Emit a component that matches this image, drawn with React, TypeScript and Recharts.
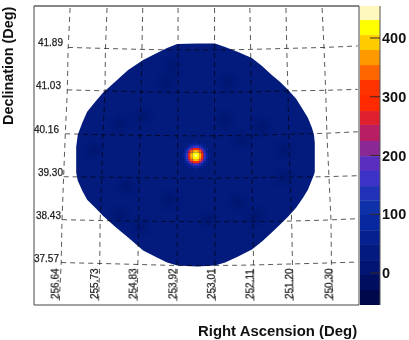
import React from 'react';
import {
  ComposedChart, Area, Line, Scatter, XAxis, YAxis, ReferenceArea, ReferenceLine,
} from 'recharts';

const FONT = '"Liberation Sans", Arial, sans-serif';

// sky map: the edge of the exposure disk
const diskRa = [256.43, 256.39, 256.28, 256.16, 255.96, 255.77, 255.47, 255.15, 254.78, 254.44, 254.19, 253.94, 253.45, 253.01, 252.76, 252.44, 252.10, 251.85, 251.61, 251.41, 251.21, 251.01, 250.84, 250.72, 250.62, 250.57, 250.55];
const diskTop = [39.94, 40.18, 40.42, 40.64, 40.84, 41.02, 41.24, 41.48, 41.68, 41.82, 41.92, 42.00, 42.01, 42.01, 41.94, 41.84, 41.72, 41.56, 41.38, 41.24, 41.08, 40.90, 40.68, 40.52, 40.32, 40.18, 40.02];
const diskBottom = [39.42, 39.26, 39.06, 38.88, 38.72, 38.56, 38.34, 38.12, 37.86, 37.72, 37.62, 37.56, 37.54, 37.56, 37.62, 37.74, 37.88, 38.04, 38.22, 38.38, 38.54, 38.72, 38.92, 39.08, 39.28, 39.38, 39.44];

// darker patches of the background
const patchRa = [256.01, 255.35, 254.04, 254.78, 254.19, 252.69, 252.76, 251.85, 251.29, 252.34, 255.18, 254.12, 255.35, 254.86, 252.44, 251.33, 253.18, 252.02];
const patchDec = [39.88, 40.42, 41.54, 40.54, 41.22, 41.22, 40.48, 40.34, 39.88, 40.08, 39.14, 38.88, 38.58, 38.34, 38.82, 39.34, 38.48, 38.54];

// hot spot, rows from north to south
const spotRa = [253.80, 253.75, 253.70, 253.64, 253.59, 253.53, 253.48, 253.43, 253.37, 253.32, 253.26, 253.21, 253.16];
const spotDec = [40.02, 39.98, 39.94, 39.89, 39.85, 39.80, 39.76, 39.72, 39.67, 39.63, 39.58, 39.54, 39.50];
const spotValues = [
  [3, 8, 15, 25, 35, 45, 50, 45, 35, 25, 15, 8, 3],
  [8, 15, 35, 55, 70, 85, 90, 85, 70, 55, 35, 15, 8],
  [15, 35, 60, 90, 135, 160, 170, 160, 135, 90, 60, 35, 15],
  [25, 55, 90, 150, 240, 290, 300, 290, 240, 150, 90, 55, 25],
  [35, 70, 135, 240, 330, 375, 390, 375, 330, 240, 135, 70, 35],
  [45, 85, 160, 290, 375, 420, 430, 420, 375, 290, 160, 85, 45],
  [50, 90, 170, 300, 390, 430, 450, 430, 390, 300, 170, 90, 50],
  [45, 85, 160, 290, 375, 420, 430, 420, 375, 290, 160, 85, 45],
  [35, 70, 135, 240, 330, 375, 390, 375, 330, 240, 135, 70, 35],
  [25, 55, 90, 150, 240, 290, 300, 290, 240, 150, 90, 55, 25],
  [15, 35, 60, 90, 135, 160, 170, 160, 135, 90, 60, 35, 15],
  [8, 15, 35, 55, 70, 85, 90, 85, 70, 55, 35, 15, 8],
  [3, 8, 15, 25, 35, 45, 50, 45, 35, 25, 15, 8, 3],
];

// graticule
const meridianDec = [42.72, 41.88, 41.04, 40.18, 39.34, 38.46, 37.60, 36.78];
const meridians = [
  [256.58, 256.63, 256.65, 256.70, 256.74, 256.78, 256.80, 256.85],
  [255.67, 255.71, 255.72, 255.77, 255.80, 255.84, 255.85, 255.88],
  [254.79, 254.81, 254.83, 254.86, 254.88, 254.89, 254.91, 254.93],
  [253.92, 253.92, 253.92, 253.93, 253.93, 253.94, 253.94, 253.95],
  [253.02, 253.02, 253.02, 253.02, 253.01, 253.01, 253.01, 253.00],
  [252.15, 252.13, 252.12, 252.11, 252.10, 252.07, 252.06, 252.05],
  [251.26, 251.24, 251.21, 251.19, 251.16, 251.12, 251.10, 251.08],
  [250.37, 250.32, 250.28, 250.25, 250.20, 250.15, 250.14, 250.10],
];
const parallelRa = [255.72, 254.81, 253.92, 253.03, 252.15, 251.24, 250.30, 249.49];
const parallelStartRa = [256.63, 256.65, 256.70, 256.74, 256.78, 256.80];
const parallels = [
  [41.93, 41.91, 41.89, 41.88, 41.88, 41.89, 41.91, 41.93, 41.96],
  [41.08, 41.06, 41.04, 41.03, 41.03, 41.04, 41.06, 41.07, 41.09],
  [40.20, 40.18, 40.17, 40.16, 40.16, 40.17, 40.19, 40.21, 40.24],
  [39.34, 39.33, 39.32, 39.31, 39.31, 39.32, 39.33, 39.34, 39.36],
  [38.48, 38.46, 38.45, 38.44, 38.44, 38.44, 38.45, 38.47, 38.50],
  [37.62, 37.60, 37.58, 37.56, 37.56, 37.57, 37.59, 37.61, 37.63],
];

// tick labels
const raTicks = [256.85, 255.88, 254.93, 253.95, 253.00, 252.05, 251.08, 250.10];
const raLabels = ['256.64', '255.73', '254.83', '253.92', '253.01', '252.11', '251.20', '250.30'];
const decTicks = [41.93, 41.08, 40.20, 39.34, 38.48, 37.62];
const decLabels = ['41.89', '41.03', '40.16', '39.30', '38.43', '37.57'];
const decLabelInset = [29, 27, 25, 29, 27, 25];

// colour scale
const bandEdges = [-54.5, -29, -3.4, 22, 47.7, 73, 98.7, 124, 148, 173.6, 199, 224.7, 252, 275.7, 303, 328.5, 354, 379.6, 405, 430.6, 454.5];
const bandColors = ['#00084c', '#000e60', '#011474', '#031a80', '#062090', '#0828a0', '#0e30a8', '#2232b8', '#3c32c8', '#5a2ebe', '#8a2896', '#b81e64', '#e0202e', '#ff2a00', '#ff3300', '#ff6600', '#ff9900', '#ffcc00', '#ffff00', '#fff8be'];
const scaleTicks = [0, 100, 200, 300, 400];
const scaleAnchor = [{ side: 0, level: 0 }];

const diskData = diskRa.map((ra, i) => ({ ra, range: [diskBottom[i], diskTop[i]] }));
const patchData = patchRa.map((ra, i) => ({ ra, dec: patchDec[i] }));
const spotData = spotValues.flatMap((row, r) => row.map((value, c) => ({ ra: spotRa[c], dec: spotDec[r], value })));
const meridianData = meridians.map((m) => m.map((ra, i) => ({ ra, dec: meridianDec[i] })));
const parallelData = parallels.map((p, k) => p.map((dec, i) => ({ ra: i === 0 ? parallelStartRa[k] : parallelRa[i - 1], dec })));

const colorFor = (v: number) => {
  for (let i = 0; i < bandColors.length; i++) {
    if (v < bandEdges[i + 1]) return bandColors[i];
  }
  return bandColors[bandColors.length - 1];
};

const RaTick = ({ x, y, index }: any) => (
  <text
    className="soft"
    transform={`translate(${x - 0.5},${y - 6}) rotate(-90)`}
    fontFamily={FONT} fontSize={10} fill="#222" stroke="#222" strokeWidth={0.25}
  >
    {raLabels[index]}
  </text>
);

const DecTick = ({ x, y, index }: any) => (
  <text
    className="soft"
    x={x + decLabelInset[index]} y={y - 1} textAnchor="end"
    fontFamily={FONT} fontSize={10} fill="#222" stroke="#222" strokeWidth={0.25}
  >
    {decLabels[index]}
  </text>
);

const ScaleTick = ({ x, y, payload }: any) => (
  <g>
    <line x1={x - 10} x2={x} y1={y} y2={y} stroke="#3a2a20" />
    <text className="soft" x={x + 2} y={y + 5} fontFamily={FONT} fontSize={14.5} fontWeight="bold" fill="#111">
      {payload.value}
    </text>
  </g>
);

const SpotCell = ({ cx, cy, value }: any) => (
  value < 47.7 ? null : <rect x={cx - 1.2} y={cy - 1.2} width={2.4} height={2.4} fill={colorFor(value)} />
);

const Patch = ({ cx, cy }: any) => <circle cx={cx} cy={cy} r={6} fill="#00126a" opacity={0.7} />;

const App: React.FC = () => (
  <div style={{ position: 'absolute', left: 0, top: 0, width: 409, height: 340, background: '#fff' }}>
    <style>{`.spot { filter: blur(0.7px); } .patch { filter: blur(3px); } .soft { filter: blur(0.35px); }`}</style>

    <div style={{ position: 'absolute', left: 0, top: 0 }}>
      <ComposedChart width={409} height={340} margin={{ left: 33, right: 50, top: 6, bottom: 34 }}>
        <XAxis
          type="number" dataKey="ra" domain={[249.46, 257.47]} reversed allowDataOverflow
          ticks={raTicks} interval={0} height={1} tick={<RaTick />} tickLine={false} tickSize={0} tickMargin={0}
          axisLine={{ stroke: '#444' }}
        />
        <YAxis
          type="number" dataKey="dec" domain={[36.77, 42.76]} allowDataOverflow
          ticks={decTicks} interval={0} width={1} tick={<DecTick />} tickLine={false} tickSize={0} tickMargin={0}
          axisLine={{ stroke: '#444' }}
        />
        <ReferenceLine y={42.76} stroke="#111" />
        <ReferenceLine x={249.46} stroke="#444" />
        <Area
          data={diskData} dataKey="range" type="linear" stroke="none" fill="#021b7c"
          fillOpacity={1} isAnimationActive={false} dot={false} activeDot={false}
        />
        <Scatter className="patch" data={patchData} shape={<Patch />} isAnimationActive={false} />
        <Scatter className="spot" data={spotData} shape={<SpotCell />} isAnimationActive={false} />
        {meridianData.map((d, i) => (
          <Line
            key={`m${i}`} data={d} dataKey="dec" stroke="#000" strokeOpacity={0.65} strokeWidth={1}
            strokeDasharray="5 4" dot={false} activeDot={false} isAnimationActive={false}
          />
        ))}
        {parallelData.map((d, i) => (
          <Line
            key={`p${i}`} data={d} dataKey="dec" stroke="#000" strokeOpacity={0.65} strokeWidth={1}
            strokeDasharray="5 4" dot={false} activeDot={false} isAnimationActive={false}
          />
        ))}
      </ComposedChart>
    </div>

    <div style={{ position: 'absolute', left: 0, top: 0 }}>
      <ComposedChart width={409} height={340} data={scaleAnchor} margin={{ left: 360, right: 28, top: 6, bottom: 35 }}>
        <XAxis type="number" dataKey="side" domain={[0, 1]} hide />
        <YAxis
          type="number" orientation="right" domain={[-54.5, 454.5]} allowDataOverflow
          ticks={scaleTicks} interval={0} width={1} tick={<ScaleTick />} tickLine={false} tickSize={0} tickMargin={0}
          axisLine={{ stroke: '#555' }}
        />
        <Line dataKey="level" hide isAnimationActive={false} />
        {bandColors.map((c, i) => (
          <ReferenceArea key={c} y1={bandEdges[i]} y2={bandEdges[i + 1]} fill={c} fillOpacity={1} stroke="none" />
        ))}
      </ComposedChart>
    </div>

    <svg width={409} height={340} style={{ position: 'absolute', left: 0, top: 0, pointerEvents: 'none' }}>
      <text className="soft" transform="translate(13,125) rotate(-90)" fontFamily={FONT} fontSize={14.4} fontWeight="bold" fill="#111">
        Declination (Deg)
      </text>
      <text className="soft" x={198} y={336} fontFamily={FONT} fontSize={14.9} fontWeight="bold" fill="#111">
        Right Ascension (Deg)
      </text>
    </svg>
  </div>
);

export default App;
